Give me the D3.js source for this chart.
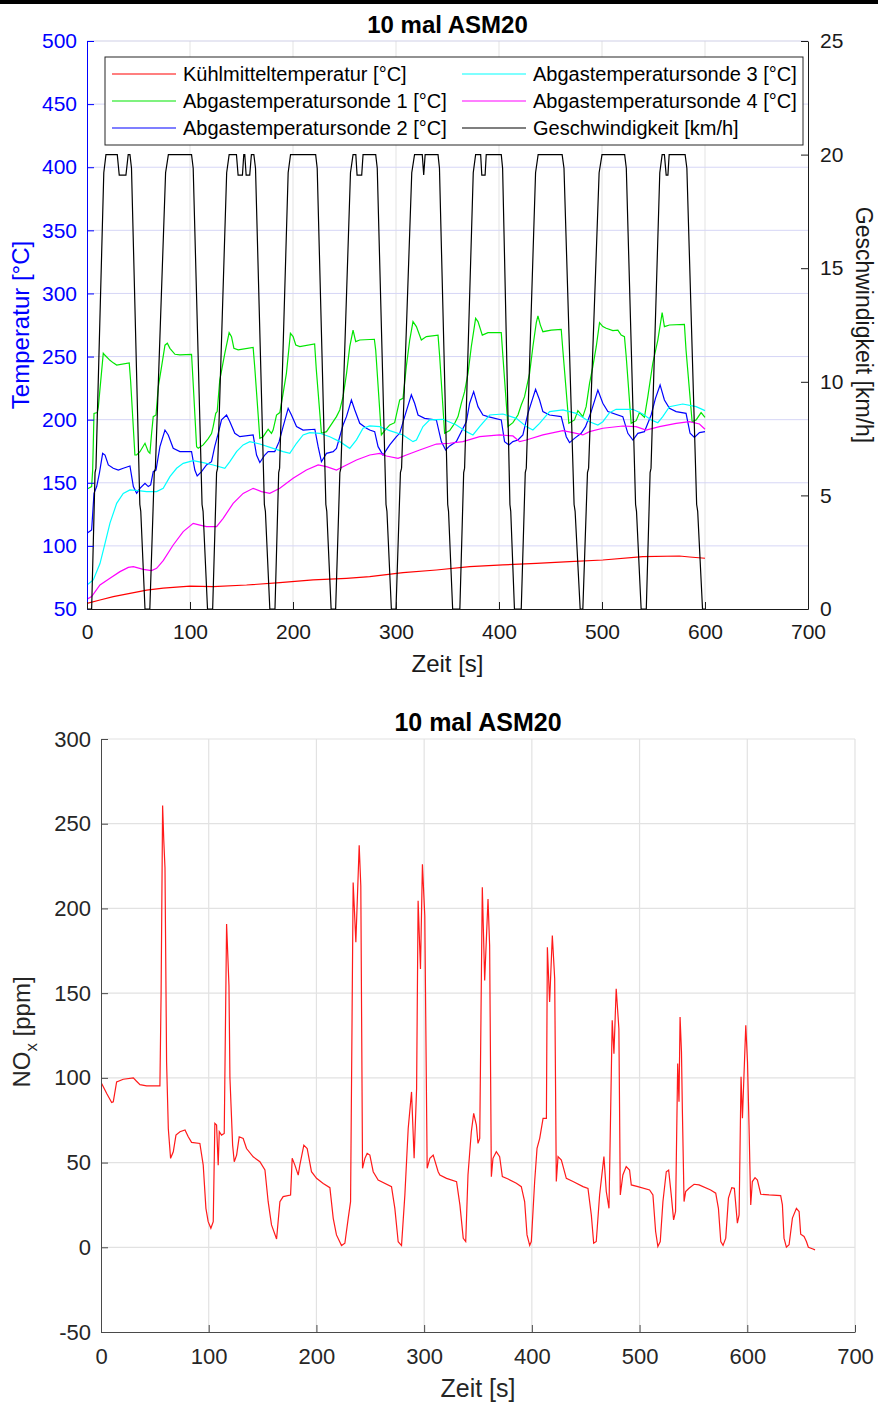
<!DOCTYPE html>
<html>
<head>
<meta charset="utf-8">
<script src="https://cdn.jsdelivr.net/npm/d3@7"></script>
<style>
  body { margin: 0; background: #fff; }
  svg text { font-family: "Liberation Sans", Arial, Helvetica, sans-serif; }
</style>
</head>
<body>
<svg width="878" height="1402"></svg>
<script>
// ---- data ----
const titleText = '10 mal ASM20'
const xTicks = [0, 100, 200, 300, 400, 500, 600, 700]
const tempTicks = [50, 100, 150, 200, 250, 300, 350, 400, 450, 500]
const speedTicks = [0, 5, 10, 15, 20, 25]
const noxTicks = [-50, 0, 50, 100, 150, 200, 250, 300]

const legendNames = [
  'Kühlmitteltemperatur [°C]',
  'Abgastemperatursonde 1 [°C]',
  'Abgastemperatursonde 2 [°C]',
  'Abgastemperatursonde 3 [°C]',
  'Abgastemperatursonde 4 [°C]',
  'Geschwindigkeit [km/h]'
]

// [t s, T °C]
const coolant = [[0,54.5],[12.6,57.1],[25.5,59.8],[41.7,62.4],[57.9,65],[74,66.6],[99.9,68.2],[122.5,67.7],[154.9,69],[187.2,70.9],[219.5,73],[251.9,74.3],[274.5,75.6],[306.8,78.8],[339.2,80.9],[371.5,83.5],[403.8,84.9],[436.2,86.2],[468.5,87.5],[500.8,88.8],[539.6,91.5],[575.2,92],[585,91.2],[600,90.2]]

const sonde1 = [[0,145],[4.5,147],[5.5,160],[6.8,205],[10,205.6],[11,210],[15.8,252.6],[17.5,251],[22.3,247],[25.5,245],[28.8,243.3],[41,245],[42.4,230],[46.5,172],[48.2,172],[51.4,174.6],[56.3,181.3],[59.5,174.7],[61.1,173.5],[62.7,189],[64.3,202.4],[67,203.7],[69.2,226],[72.4,242],[75.7,259],[78,260.5],[80.5,256.5],[85.4,251.8],[90.2,251.3],[101.5,251.8],[103,230],[106.4,178.6],[108,177.3],[112.8,180],[117.7,185],[120.9,189],[122.5,194.5],[125,205],[126.4,206.4],[128.9,231.4],[133.8,252.6],[138,269],[140.3,265.8],[142.6,256.6],[146.8,255.3],[161.3,257.3],[163,240],[167.8,185.2],[171,186.5],[175.9,192.4],[179.1,189.2],[180.7,191.8],[184,203.7],[187.2,205.6],[190.4,220.9],[193.6,236.7],[197.5,268.4],[200.1,265.8],[202.7,259.2],[206.6,257.9],[221,260],[222.6,240],[227.6,189.2],[232.5,190.5],[239,198.4],[242.2,202.4],[245.4,207.7],[248.6,218.2],[252,236.7],[255.1,257.8],[258.3,271],[260.9,261.8],[264.8,263.1],[279,263.7],[280.3,255],[285.8,187.9],[289,191.4],[293.9,195.8],[298.7,197.6],[303.6,215.6],[306.8,216.9],[310,242],[313.3,263.1],[316.5,277.7],[319.8,273.7],[324.6,263.1],[329.5,265.8],[340.8,267],[342.4,250],[347.2,189.2],[352.1,191.3],[356.9,197],[360.2,202.4],[363.4,212.9],[366.6,222.2],[369.9,236.7],[373.1,257.8],[377.3,280.3],[379.6,277.7],[383.8,267],[389.3,268.9],[402.2,268.9],[403.8,250],[408.7,194.5],[413.5,197.6],[418.4,203.7],[421.6,211.6],[424.8,218.2],[429.7,236.7],[432.9,257.8],[436.2,276.9],[437.8,282.2],[440.1,275.1],[442.6,269.7],[450.7,271],[460.4,271.6],[462,255],[467.8,197.1],[473.3,199.8],[476.6,207.2],[481.4,202.4],[484.6,210.3],[487.9,228.8],[491.1,242],[494.4,257.8],[497.6,276.9],[500.8,273.7],[504.1,272.4],[510.5,270.5],[515.4,271],[518.6,267],[521.8,265.8],[523.5,250],[528.3,197.1],[533.2,199.2],[536.4,205.6],[541.2,201.9],[544.5,218.2],[549.3,244.7],[554.2,263.1],[558.4,284.8],[560.6,273.7],[565.5,275],[580,275.5],[581.6,255],[587.5,198.4],[591.4,199.8],[596.2,205.6],[600,201.9]]

const sonde2 = [[0,110],[4.5,112.6],[6.8,141.6],[9.4,147],[12,157.5],[15.2,173.3],[17.5,172],[20.7,164.1],[25.5,161.5],[30.4,160],[35.2,161.5],[41.7,163.3],[45,147],[48.2,141.6],[51.4,145.6],[56.3,149.6],[59.5,147],[61.8,148.3],[64.3,158.8],[67,160.1],[70.8,178.6],[75.7,191.8],[78.9,187.9],[83.7,177.3],[90.2,174.7],[101.5,174.7],[104.7,160.1],[107,155.4],[111.2,158.8],[116,164.1],[120.9,166.7],[124,178.6],[127.4,189.2],[130.6,199.8],[135.5,203.7],[138.7,198.4],[143.5,189.2],[148.4,186.5],[161.3,187.9],[164.6,172],[167.8,166],[172.6,172],[175.9,174.7],[182.3,174.7],[186.5,182.6],[190.4,194.5],[195.3,209],[198.5,203.7],[203.4,194.5],[209.8,191.8],[221.2,192.4],[224.4,178.6],[227.6,166.7],[232.5,173.3],[239,174.7],[242.2,177.3],[248.6,195.8],[251.9,202.4],[256.7,215.6],[260,207.7],[264.8,197.1],[271.3,193.2],[274.5,191.8],[279.3,190.5],[282.6,178.6],[287.4,172],[293.9,180],[300.4,186.5],[303.6,189.2],[308.4,202.4],[314.9,219.6],[318.1,213],[321.4,203.7],[327.8,201],[339.2,199.8],[344,182.6],[348.2,176],[352.1,179.2],[358.6,182.6],[363.4,190.5],[368.3,198.4],[371.5,213],[375.4,222.2],[379.6,210.3],[384.4,203.7],[389.3,202.4],[402.2,199.8],[405.4,182.6],[409.6,179.9],[413.5,182.6],[418.4,183.9],[423.2,187.9],[428.1,205],[435.5,224.1],[439.4,215.6],[442.6,206.4],[449.1,203.7],[460.4,202.4],[465.3,186.5],[468.5,181.8],[473.3,185.2],[479.8,189.2],[484,194.5],[489.5,206.4],[496,223.5],[500.8,213],[505.7,206.4],[520.2,202.4],[525.1,189.2],[530,183.9],[534.8,189.2],[541.2,190.5],[547.7,203.7],[551.9,216.9],[556.4,227.5],[560.6,215.6],[565.5,209],[572,206.4],[581.6,205],[585.5,189.2],[589.7,186],[594.6,189.7],[600,190.5]]

const sonde3 = [[0,69],[6.1,73],[12.6,86],[17.5,102],[22.3,118],[28.8,133.7],[35.2,141.6],[41.7,144.3],[49.8,143.8],[57.9,143],[67.6,143],[74,145.6],[80.5,154.9],[87,161.5],[93.4,165.4],[103.1,167.5],[112.8,165.9],[122.5,164.1],[133.8,161.5],[138.7,166.7],[145.2,174.7],[151.6,180],[158.1,182.6],[167.8,180.7],[180.7,177.3],[190.4,174.7],[196.9,173.3],[203.4,181.3],[209.8,187.9],[216.3,189.7],[226,189.2],[235.7,186.5],[245.4,182.6],[255.1,177.3],[261.6,184],[268,193.2],[274.5,195],[284.2,194.5],[293.9,191.3],[306.8,187.9],[316.5,182.6],[319.8,183.9],[326.2,194.5],[332.7,199.8],[345.6,200.3],[358.6,195.8],[368.3,190.5],[374.7,187.9],[381.2,194.5],[390.9,203.7],[403.8,204.5],[416.8,201],[426.5,194.5],[432.9,191.8],[439.4,197.1],[449.1,206.4],[462,207.7],[474.9,205],[487.9,198.4],[496,195.8],[500.8,198.4],[507.3,205.6],[513.7,208.2],[529.9,208.2],[539.6,204.5],[547.7,199.8],[554.2,197.6],[559,202.4],[565.5,210.3],[578.4,212.4],[591.4,210.3],[600,207.2]]

const sonde4 = [[0,57.7],[4.5,59.8],[12.6,69],[22.3,74.3],[32,79.6],[40.1,83],[45,83.5],[54.6,81.4],[62.7,80.4],[67.6,82.2],[74,88.3],[83.7,100.7],[93.4,111.3],[103.1,117.9],[109.6,116.5],[116,115.2],[125.8,115.2],[132.2,121.8],[141.9,133.7],[151.6,141.6],[161.3,145.6],[169.4,143],[177.5,141.6],[187.2,145.6],[200.1,153.5],[213,160.1],[224.4,164.1],[232.5,162.8],[242.2,160.1],[251.9,164.1],[261.6,168],[274.5,172],[284.2,173.3],[290.7,171.2],[302,169.4],[310.1,172],[323,176],[339.2,180.7],[352.1,181.3],[365,182.6],[381.2,186.5],[400.6,187.9],[413.5,187.1],[420,182.6],[426.5,183.9],[442.6,187.9],[462,191.3],[471.7,189.7],[481.4,187.9],[487.9,190.5],[500.8,193.2],[520.2,195],[533.1,194.5],[542.8,191.8],[555.8,194.5],[572,197.1],[584.9,198.4],[594.6,196.6],[600,192.4]]

// [t s, v km/h]
const speed = [[0,0],[4.5,0],[7.8,6],[8.7,6.2],[16.3,19.2],[18.4,20],[29.4,20],[31.3,19.1],[37.8,19.1],[40,20],[41.7,20],[43.2,19.4],[51.3,4.6],[52.2,4.3],[56.3,0],
  [61,0],[65.3,6],[66.4,6.2],[76.3,19.2],[79,20],[101.5,20],[103.1,19.4],[111.7,4.6],[112.7,4.3],[117,0],
  [122,0],[125.8,6],[126.8,6.2],[135.6,19.2],[138,20],[145.1,20],[146.7,19.1],[150.9,19.1],[152.2,20],[153.2,20],[154.5,19.1],[158,19.1],[159.6,20],[162,20],[163.6,19.4],[172.2,4.6],[173.2,4.3],[177.5,0],
  [182.5,0],[186.1,6],[187,6.2],[195.3,19.2],[197.6,20],[222,20],[223.5,19.4],[231.9,4.6],[232.8,4.3],[237,0],
  [241.4,0],[245.5,6],[246.5,6.2],[255.8,19.2],[258.3,20],[261,20],[262.2,19.1],[266.7,19.1],[268,20],[280.3,20],[281.8,19.4],[290.3,4.6],[291.2,4.3],[295.5,0],
  [300,0],[304.3,6],[305.4,6.2],[315.3,19.2],[318,20],[325.5,20],[326.9,19.1],[328.3,20],[340.8,20],[342.2,19.4],[350.2,4.6],[351,4.3],[355,0],
  [362,0],[365.7,6],[366.6,6.2],[375,19.2],[377.3,20],[382.2,20],[383.3,19.1],[386.5,19.1],[387.6,20],[402.2,20],[403.5,19.4],[410.6,4.6],[411.4,4.3],[415,0],
  [421.6,0],[425.5,6],[426.5,6.2],[435.5,19.2],[438,20],[461.3,20],[463.1,19.4],[472.9,4.6],[473.9,4.3],[478.8,0],
  [481.4,0],[485.9,6],[487,6.2],[497.2,19.2],[500,20],[522,20],[523.6,19.4],[532.6,4.6],[533.5,4.3],[538,0],
  [543,0],[546.7,6],[547.6,6.2],[556.1,19.2],[558.4,20],[560.6,20],[562.3,19.1],[564,19.1],[565.2,20],[580.7,20],[582.4,19.4],[591.9,4.6],[592.9,4.3],[597.6,0],[600,0]]

// [t s, NOx ppm]
const nox = [[0.6,96.7],[5.3,90.8],[9.9,85.5],[11.4,85.9],[14.5,97.6],[20.7,99.2],[30,100],[33,98],[36.2,96],[42.3,95.3],[54.7,95.3],[55.8,150],[57.2,260.8],[58.3,240],[59.4,224],[60.9,109],[62.5,70],[64.6,52.5],[67.1,56.4],[69.6,66.2],[73.3,68.2],[78,69.2],[81,65.2],[84.1,61.9],[91.8,61.3],[94.9,48.5],[97.4,23],[99.5,15.1],[102,11.2],[104.2,15.1],[105.7,73.1],[107.3,72.1],[108.8,48.5],[109.8,68.2],[111.9,66.2],[114.4,67.2],[116.6,190.8],[118.8,154.5],[119.7,100],[122.2,60.3],[123.7,50.5],[125.9,54.4],[128.3,65.2],[132,64.2],[135.1,58.3],[141.3,53.4],[147.5,50.5],[152.2,45.6],[155.2,26.9],[158.3,13.2],[163,4.9],[166.1,26.9],[169.1,29.9],[176,30.8],[177.5,52.5],[180,48.5],[183.1,42.6],[184.6,48.5],[188.3,60.3],[191.4,58.3],[195.4,44.6],[200.1,40.7],[206.3,37.7],[212.5,35.2],[215.6,17.1],[218.6,7.3],[223.3,1],[226.4,2.4],[229.5,17.1],[231.7,26.9],[234.1,215.3],[236.6,180],[239.7,237.3],[241.2,213.3],[242.8,46.6],[245,52.5],[247.1,55.4],[249.6,54.4],[252.7,44.6],[257.3,39.7],[269.7,35.8],[272.8,23],[275.9,3.3],[279,1],[282.1,30.8],[285.2,70.1],[288.3,91.7],[290.7,52.5],[293,93.7],[294.4,204.5],[296.6,164.3],[298.4,226],[300.6,195.7],[302.8,46.6],[305.3,52.5],[308.4,54.4],[313,44.6],[314.6,42.6],[320.8,40.7],[330.1,38.7],[333.2,25],[336.3,5.3],[338.6,3.4],[340.7,42.7],[343.8,68.2],[346,79],[348.5,72.1],[350,61.3],[351.6,64.3],[354,212.5],[356.2,157.5],[359.3,205.6],[360.8,178.1],[362.4,41.7],[363.9,52.5],[367,56.4],[370.1,53.5],[372.6,41.7],[377.9,40.3],[385.6,37.8],[390.2,35.8],[393.3,27],[395.5,7.3],[398,1.1],[399.5,3.4],[402.6,38.8],[404.8,58.4],[407.3,64.3],[410.4,76.1],[413.5,76.1],[414.4,177.1],[416.5,144.8],[419,184],[421.2,158.5],[422.7,38.8],[424.3,53.5],[427.4,51.5],[432,40.7],[438.2,38.8],[447.5,35.8],[452.1,34.8],[455.2,19.1],[457.4,2.4],[459.8,3.4],[462.9,30.9],[466.9,53.5],[469.1,32.9],[471.6,23],[474.6,134],[476.2,114.3],[478.3,152.6],[480.8,129],[482.1,30.9],[484.5,42.7],[487.6,47.6],[490.7,45.6],[492.3,36.8],[498.4,35.8],[509.3,33.8],[512.4,30.9],[514.9,9.3],[517,0.5],[519.2,3.4],[521.7,27],[524.8,44.6],[527,45.6],[529.4,30.9],[531.6,16.2],[533.4,21.1],[535.4,108.4],[536.6,85.9],[537.6,135.9],[538.9,115.4],[539.7,82],[541.3,27],[542.8,32.9],[545.9,34.8],[550.6,37.2],[555.2,36.8],[566,33.8],[570.7,31.9],[573.2,23],[575.4,3.4],[577.5,1.1],[580,5.4],[582.5,29],[585.6,35.2],[588,34.8],[590.8,14.2],[592.4,19.1],[594.2,100.6],[595.5,76.1],[598.6,131],[600.2,109.4],[601.6,72.1],[603.2,25],[604.7,38.8],[607.2,41.1],[609.4,39.7],[612.5,31.3],[620.2,30.9],[631,30.5],[632.6,25],[634.1,5.4],[636.3,0.1],[638.8,1.5],[641.9,17.2],[645.6,23],[648.1,21.1],[649.6,7.7],[652.7,6.4],[654.9,3.4],[656.7,0],[660.4,-0.9],[662.9,-1.5]]

const svg = d3.select('svg')
const font = '"Liberation Sans", Arial, Helvetica, sans-serif'
const plain = d => String(d)

// black rule at the very top
svg.append('rect').attr('x', 0).attr('y', 0).attr('width', 878).attr('height', 4).attr('fill', '#000')

// ================= upper chart =================
const A = { l: 87, r: 808, t: 41, b: 609 }
const x1 = d3.scaleLinear().domain([0, 700]).range([A.l, A.r])
const yT = d3.scaleLinear().domain([50, 500]).range([A.b, A.t])
const yV = d3.scaleLinear().domain([0, 25]).range([A.b, A.t])

const g1 = svg.append('g')

// grid
g1.append('g').selectAll('line').data(xTicks.slice(1, -1)).enter().append('line')
  .attr('x1', d => x1(d)).attr('x2', d => x1(d)).attr('y1', A.t).attr('y2', A.b)
  .attr('stroke', '#e3e3e3').attr('stroke-width', 1)
g1.append('g').selectAll('line').data(tempTicks.slice(1, -1)).enter().append('line')
  .attr('x1', A.l).attr('x2', A.r).attr('y1', d => yT(d)).attr('y2', d => yT(d))
  .attr('stroke', '#d6d6f6').attr('stroke-width', 1)
// top edge
g1.append('line').attr('x1', A.l).attr('x2', A.r).attr('y1', A.t).attr('y2', A.t)
  .attr('stroke', '#cfcfe6').attr('stroke-width', 1)

svg.append('clipPath').attr('id', 'clipA').append('rect')
  .attr('x', A.l).attr('y', A.t - 1).attr('width', A.r - A.l).attr('height', A.b - A.t + 2)

const lineT = d3.line().x(d => x1(d[0])).y(d => yT(d[1]))
const lineV = d3.line().x(d => x1(d[0])).y(d => yV(d[1]))

const tempSeries = [
  { data: coolant, color: '#ff0000' },
  { data: sonde1, color: '#00e600' },
  { data: sonde2, color: '#0000ff' },
  { data: sonde3, color: '#00ffff' },
  { data: sonde4, color: '#ff00ff' }
]
const plotA = g1.append('g').attr('clip-path', 'url(#clipA)')
tempSeries.forEach(s => {
  plotA.append('path').attr('d', lineT(s.data)).attr('fill', 'none')
    .attr('stroke', s.color).attr('stroke-width', 1.2)
})
plotA.append('path').attr('d', lineV(speed)).attr('fill', 'none')
  .attr('stroke', '#000').attr('stroke-width', 1.2)

// axes
const styleAxis = (sel, color, size) => {
  sel.select('.domain').attr('stroke', color)
  sel.selectAll('.tick line').attr('stroke', color)
  sel.selectAll('.tick text').attr('fill', color).style('font-size', size + 'px').style('font-family', font)
}
g1.append('g').attr('transform', `translate(${A.l},0)`)
  .call(d3.axisLeft(yT).tickValues(tempTicks).tickFormat(plain).tickSize(-7).tickSizeOuter(0).tickPadding(10))
  .call(sel => styleAxis(sel, '#0000ff', 21))
g1.append('g').attr('transform', `translate(${A.r},0)`)
  .call(d3.axisRight(yV).tickValues(speedTicks).tickFormat(plain).tickSize(-7).tickSizeOuter(0).tickPadding(12))
  .call(sel => styleAxis(sel, '#1a1a1a', 21))
g1.append('g').attr('transform', `translate(0,${A.b})`)
  .call(d3.axisBottom(x1).tickValues(xTicks).tickFormat(plain).tickSize(-7).tickSizeOuter(0).tickPadding(15))
  .call(sel => styleAxis(sel, '#1a1a1a', 21))

// titles
g1.append('text').attr('x', (A.l + A.r) / 2).attr('y', 33).attr('text-anchor', 'middle')
  .style('font-size', '24px').style('font-weight', 'bold').text(titleText)
g1.append('text').attr('x', (A.l + A.r) / 2).attr('y', 672).attr('text-anchor', 'middle')
  .style('font-size', '24px').attr('fill', '#1a1a1a').text('Zeit [s]')
g1.append('text').attr('transform', `translate(29,${(A.t + A.b) / 2}) rotate(-90)`)
  .attr('text-anchor', 'middle').style('font-size', '24px').attr('fill', '#0000ff').text('Temperatur [°C]')
g1.append('text').attr('transform', `translate(856,${(A.t + A.b) / 2}) rotate(90)`)
  .attr('text-anchor', 'middle').style('font-size', '23px').attr('fill', '#1a1a1a').text('Geschwindigkeit [km/h]')

// legend
const legend = g1.append('g')
legend.append('rect').attr('x', 105).attr('y', 57).attr('width', 698).attr('height', 88)
  .attr('fill', '#fff').attr('stroke', '#262626').attr('stroke-width', 1)
const legColors = ['#ff0000', '#00e600', '#0000ff', '#00ffff', '#ff00ff', '#000000']
const item = legend.selectAll('g.item').data(legendNames).enter().append('g').attr('class', 'item')
  .attr('transform', (d, i) => `translate(${i < 3 ? 112 : 462},${74 + (i % 3) * 27})`)
item.append('line').attr('x1', 0).attr('x2', 64).attr('y1', 0).attr('y2', 0)
  .attr('stroke', (d, i) => legColors[i]).attr('stroke-width', 1.2)
item.append('text').attr('x', 71).attr('y', 7).style('font-size', '20px').attr('fill', '#000').text(d => d)

// ================= lower chart =================
const B = { l: 101, r: 855, t: 739, b: 1332 }
const x2 = d3.scaleLinear().domain([0, 700]).range([B.l, B.r])
const yN = d3.scaleLinear().domain([-50, 300]).range([B.b, B.t])
const g2 = svg.append('g')

g2.append('g').selectAll('line').data(xTicks.slice(1)).enter().append('line')
  .attr('x1', d => x2(d)).attr('x2', d => x2(d)).attr('y1', B.t).attr('y2', B.b)
  .attr('stroke', '#e2e2e2').attr('stroke-width', 1.2)
g2.append('g').selectAll('line').data(noxTicks.slice(1)).enter().append('line')
  .attr('x1', B.l).attr('x2', B.r).attr('y1', d => yN(d)).attr('y2', d => yN(d))
  .attr('stroke', '#e2e2e2').attr('stroke-width', 1.2)

svg.append('clipPath').attr('id', 'clipB').append('rect')
  .attr('x', B.l).attr('y', B.t).attr('width', B.r - B.l).attr('height', B.b - B.t)
const lineN = d3.line().x(d => x2(d[0])).y(d => yN(d[1]))
g2.append('g').attr('clip-path', 'url(#clipB)').append('path').attr('d', lineN(nox))
  .attr('fill', 'none').attr('stroke', '#ff1a1a').attr('stroke-width', 1.2)

g2.append('g').attr('transform', `translate(${B.l},0)`)
  .call(d3.axisLeft(yN).tickValues(noxTicks).tickFormat(plain).tickSize(-7).tickSizeOuter(0).tickPadding(10))
  .call(sel => styleAxis(sel, '#4a4a4a', 22))
g2.append('g').attr('transform', `translate(0,${B.b})`)
  .call(d3.axisBottom(x2).tickValues(xTicks).tickFormat(plain).tickSize(-7).tickSizeOuter(0).tickPadding(16))
  .call(sel => styleAxis(sel, '#4a4a4a', 22))
g2.selectAll('.tick text').attr('fill', '#262626')

g2.append('text').attr('x', (B.l + B.r) / 2).attr('y', 731).attr('text-anchor', 'middle')
  .style('font-size', '25px').style('font-weight', 'bold').attr('fill', '#000').text(titleText)
g2.append('text').attr('x', (B.l + B.r) / 2).attr('y', 1397).attr('text-anchor', 'middle')
  .style('font-size', '25px').attr('fill', '#262626').text('Zeit [s]')
const yl = g2.append('text').attr('transform', `translate(30,1032) rotate(-90)`)
  .attr('text-anchor', 'middle').style('font-size', '24px').attr('fill', '#262626')
yl.append('tspan').text('NO')
yl.append('tspan').attr('dy', 7).style('font-size', '17px').text('x')
yl.append('tspan').attr('dy', -7).text(' [ppm]')
</script>
</body>
</html>
